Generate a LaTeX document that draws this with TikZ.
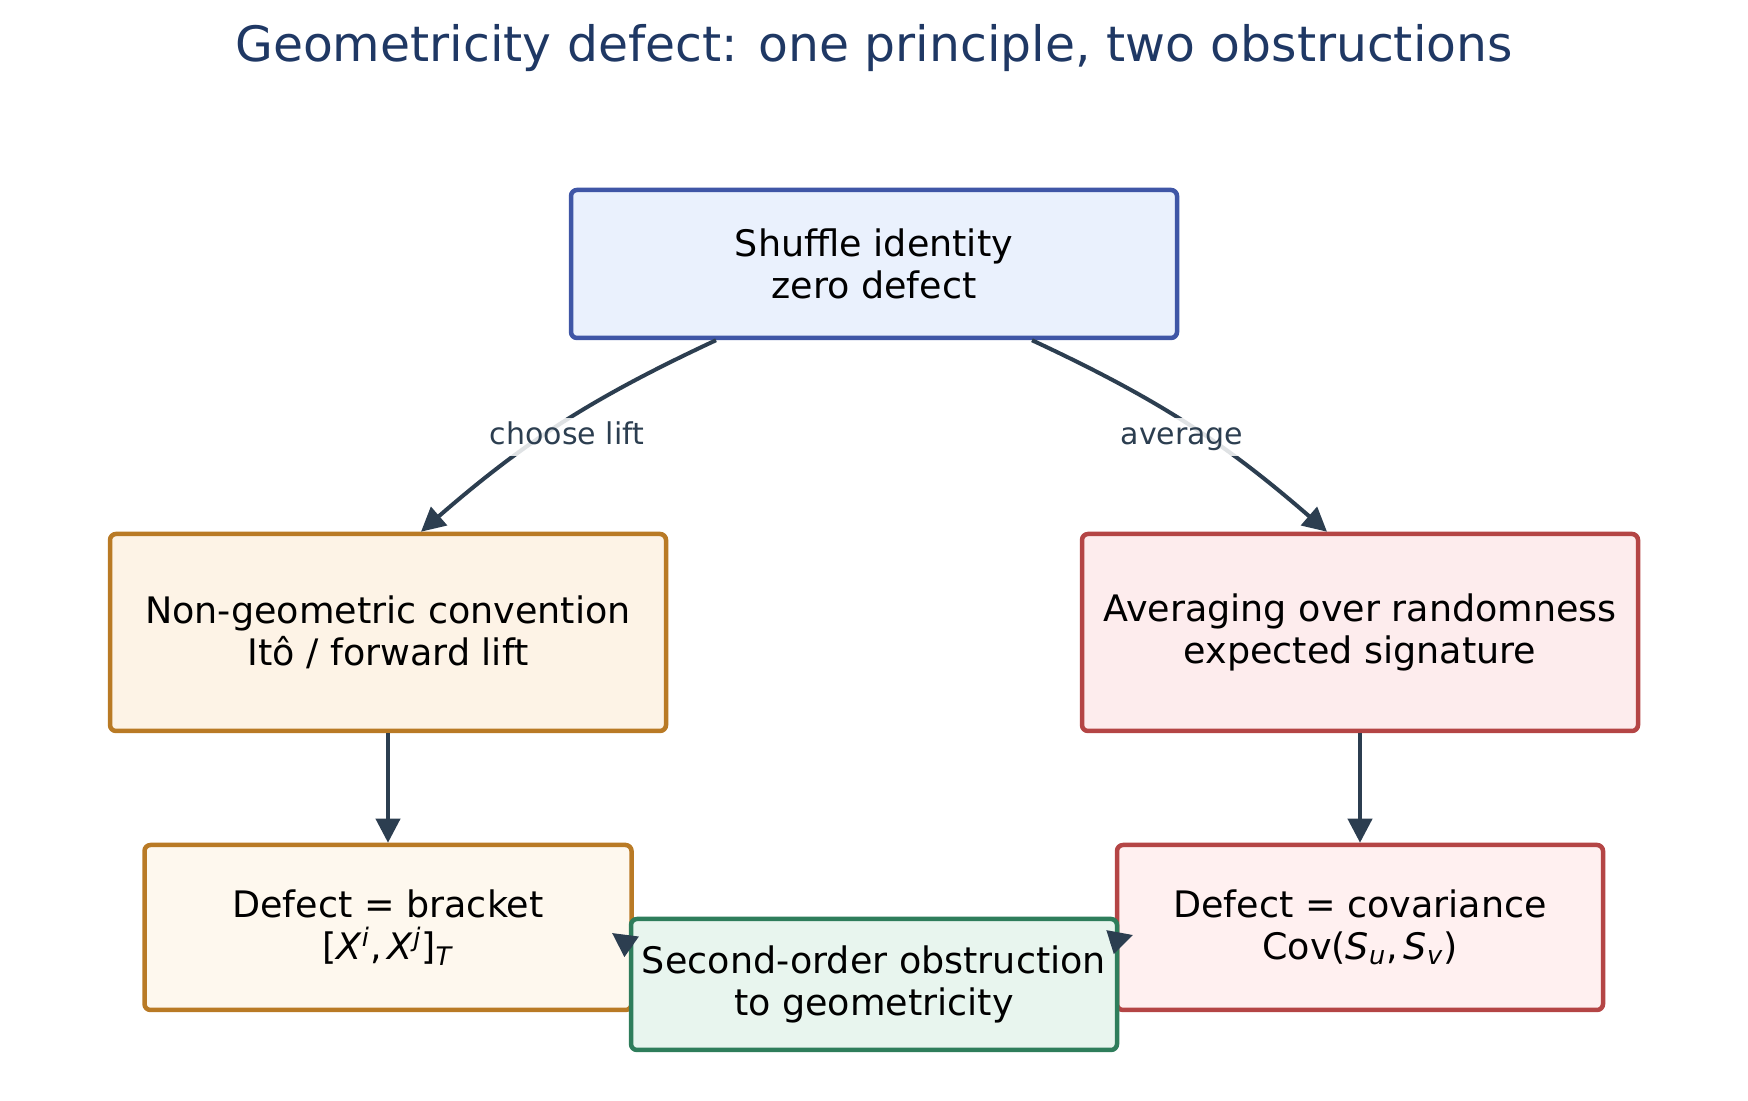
\documentclass[tikz,border=0pt]{standalone}
\usepackage{fontspec}
\setmainfont{DejaVu Sans}
\usetikzlibrary{arrows.meta}

\definecolor{titlec}{HTML}{1F3864}
\definecolor{arrowc}{HTML}{2C3E50}
\definecolor{bluedraw}{HTML}{3F56A6}
\definecolor{bluefill}{HTML}{EAF1FD}
\definecolor{orangedraw}{HTML}{B97A25}
\definecolor{orangefill}{HTML}{FDF3E6}
\definecolor{orangefilltwo}{HTML}{FEF8EE}
\definecolor{reddraw}{HTML}{B44545}
\definecolor{redfill}{HTML}{FDECED}
\definecolor{redfilltwo}{HTML}{FFF0F0}
\definecolor{greendraw}{HTML}{2E7D5B}
\definecolor{greenfill}{HTML}{E8F5EE}

\tikzset{
	box/.style={draw, rounded corners=3pt, line width=2.25pt, align=center,
		inner sep=0pt, font=\fontsize{18.25}{21}\selectfont},
	arr/.style={-{Triangle[length=12pt,width=12pt]}, line width=2pt, draw=arrowc},
	lbl/.style={fill=white, fill opacity=0.85, text opacity=1, text=arrowc,
		inner sep=2pt, text height=11.4pt, text depth=3.6pt, font=\fontsize{15}{18}\selectfont}
}

\begin{document}
\begin{tikzpicture}[x=0.5pt, y=0.5pt]
	\useasboundingbox (0,0) rectangle (1748,1101);
	
	%title
	\node[text=titlec, font=\fontsize{24.4}{29}\selectfont] (title) at (874,1053)
		{Geometricity defect: one principle, two obstructions};
	
	%boxes
	\node[box, draw=bluedraw, fill=bluefill, minimum width=303pt, minimum height=74pt]
		(shuffle) at (874,837) {Shuffle identity\\zero defect};
	\node[box, draw=orangedraw, fill=orangefill, minimum width=278pt, minimum height=98.5pt]
		(conv) at (388,468.5) {Non-geometric convention\\Itô / forward lift};
	\node[box, draw=reddraw, fill=redfill, minimum width=278pt, minimum height=98.5pt]
		(avg) at (1360,468.5) {Averaging over randomness\\expected signature};
	\node[box, draw=orangedraw, fill=orangefilltwo, minimum width=243.5pt, minimum height=82.5pt]
		(bracket) at (388,173.5) {Defect = bracket\\{}[\textit{X}\textsuperscript{\textit{i}},\,\textit{X}\textsuperscript{\textit{j}}]\textsubscript{\textit{T}}};
	\node[box, draw=reddraw, fill=redfilltwo, minimum width=243pt, minimum height=82.5pt]
		(cov) at (1360,173.5) {Defect = covariance\\Cov(\textit{S}\textsubscript{\textit{u}},\,\textit{S}\textsubscript{\textit{v}})};
	\node[box, draw=greendraw, fill=greenfill, minimum width=243pt, minimum height=65.5pt]
		(obst) at (874,116.5) {Second-order obstruction\\to geometricity};
	
	%arrows
	\draw[arr] ([xshift=-79pt]shuffle.south) to[bend right=8] ([xshift=16.5pt]conv.north);
	\draw[arr] ([xshift=79pt]shuffle.south) to[bend left=8] ([xshift=-16.5pt]avg.north);
	\node[lbl] (liftlbl) at (567,664) {choose lift};
	\node[lbl] (avglbl) at (1182,664) {average};
	\draw[arr] (conv) -- (bracket);
	\draw[arr] (avg) -- (cov);
	
	%obstruction links
	\coordinate (tipl) at (612,168);
	\coordinate (tipr) at (1133,166);
	\draw[arr] ([shift={(1.5pt,18.8pt)}]obst.west) -- (tipl);
	\draw[arr] ([shift={(-4.5pt,21.2pt)}]obst.east) -- (tipr);
\end{tikzpicture}
\end{document}
